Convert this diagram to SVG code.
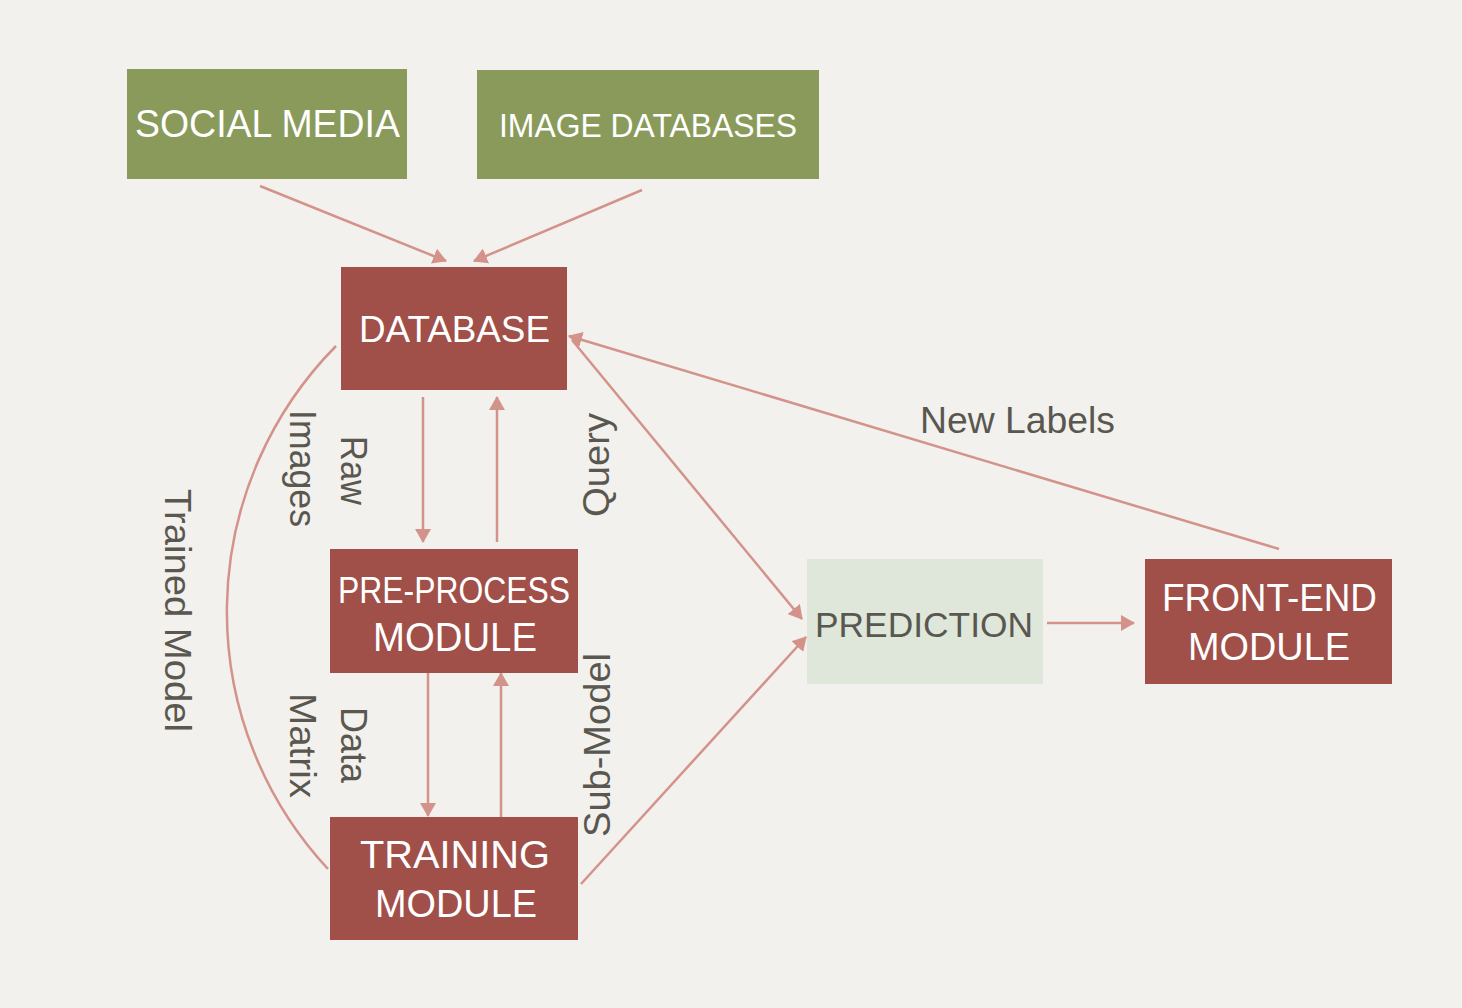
<svg xmlns="http://www.w3.org/2000/svg" width="1462" height="1008" viewBox="0 0 1462 1008">
  <defs>
    <marker id="arrow" markerUnits="userSpaceOnUse" viewBox="0 0 14 16" refX="13" refY="8" markerWidth="14" markerHeight="16" orient="auto">
      <path d="M0,0 L14,8 L0,16 z" fill="#d4938a"/>
    </marker>
  </defs>
  <style>
    .bg { fill: #f2f1ed; }
    .green { fill: #8a9a5b; }
    .red { fill: #a04f49; }
    .pred { fill: #dee7da; }
    .wt { fill: #ffffff; font-family: "Liberation Sans", Arial, sans-serif; }
    .gt { fill: #59574f; font-family: "Liberation Sans", Arial, sans-serif; }
    .lbl { fill: #59574f; font-family: "Liberation Sans", Arial, sans-serif; font-size: 37px; }
    .conn { stroke: #d4938a; stroke-width: 2.5; fill: none; }
    .arr { marker-end: url(#arrow); }
  </style>
  <rect class="bg" x="0" y="0" width="1462" height="1008"/>

  <g id="connectors">
    <line class="conn arr" x1="260" y1="186" x2="446" y2="261"/>
    <line class="conn arr" x1="642" y1="190" x2="474" y2="261"/>
    <line class="conn arr" x1="423" y1="397" x2="423" y2="542"/>
    <line class="conn arr" x1="497" y1="542" x2="497" y2="397"/>
    <line class="conn arr" x1="428" y1="673" x2="428" y2="816"/>
    <line class="conn arr" x1="501" y1="817" x2="501" y2="673"/>
    <line class="conn arr" x1="572" y1="340" x2="802" y2="619"/>
    <line class="conn arr" x1="581" y1="884" x2="806" y2="637"/>
    <line class="conn arr" x1="1279" y1="549" x2="569" y2="336"/>
    <line class="conn arr" x1="1047" y1="623" x2="1134" y2="623"/>
    <path class="conn" d="M336,346 A378,378 0 0 0 328,869"/>
  </g>

  <g id="labels">
    <text class="lbl" x="920" y="433" textLength="195" lengthAdjust="spacingAndGlyphs">New Labels</text>
    <text class="lbl" transform="translate(290,410) rotate(90)" x="0" y="0" textLength="117" lengthAdjust="spacingAndGlyphs">Images</text>
    <text class="lbl" transform="translate(341,436) rotate(90)" x="0" y="0" textLength="69" lengthAdjust="spacingAndGlyphs">Raw</text>
    <text class="lbl" transform="translate(165,489) rotate(90)" x="0" y="0" textLength="243" lengthAdjust="spacingAndGlyphs">Trained Model</text>
    <text class="lbl" transform="translate(290,693) rotate(90)" x="0" y="0" textLength="105" lengthAdjust="spacingAndGlyphs">Matrix</text>
    <text class="lbl" transform="translate(341,707) rotate(90)" x="0" y="0" textLength="76" lengthAdjust="spacingAndGlyphs">Data</text>
    <text class="lbl" transform="translate(609,517) rotate(-90)" x="0" y="0" textLength="104" lengthAdjust="spacingAndGlyphs">Query</text>
    <text class="lbl" transform="translate(610,837) rotate(-90)" x="0" y="0" textLength="184" lengthAdjust="spacingAndGlyphs">Sub-Model</text>
  </g>

  <g id="social-media">
    <rect class="green" x="127" y="69" width="280" height="110"/>
    <text class="wt" x="135" y="137" font-size="39" textLength="265" lengthAdjust="spacingAndGlyphs">SOCIAL MEDIA</text>
  </g>

  <g id="image-databases">
    <rect class="green" x="477" y="70" width="342" height="109"/>
    <text class="wt" x="499" y="137" font-size="33" textLength="298" lengthAdjust="spacingAndGlyphs">IMAGE DATABASES</text>
  </g>

  <g id="database">
    <rect class="red" x="341" y="267" width="226" height="123"/>
    <text class="wt" x="359" y="342" font-size="37" textLength="191" lengthAdjust="spacingAndGlyphs">DATABASE</text>
  </g>

  <g id="pre-process-module">
    <rect class="red" x="330" y="549" width="248" height="124"/>
    <text class="wt" x="338" y="603" font-size="36" textLength="232" lengthAdjust="spacingAndGlyphs">PRE-PROCESS</text>
    <text class="wt" x="373" y="651" font-size="41" textLength="164" lengthAdjust="spacingAndGlyphs">MODULE</text>
  </g>

  <g id="training-module">
    <rect class="red" x="330" y="817" width="248" height="123"/>
    <text class="wt" x="360" y="868" font-size="38" textLength="190" lengthAdjust="spacingAndGlyphs">TRAINING</text>
    <text class="wt" x="375" y="917" font-size="39" textLength="162" lengthAdjust="spacingAndGlyphs">MODULE</text>
  </g>

  <g id="prediction">
    <rect class="pred" x="807" y="559" width="236" height="125"/>
    <text class="gt" x="815" y="637" font-size="35" textLength="218" lengthAdjust="spacingAndGlyphs">PREDICTION</text>
  </g>

  <g id="front-end-module">
    <rect class="red" x="1145" y="559" width="247" height="125"/>
    <text class="wt" x="1162" y="611" font-size="39" textLength="215" lengthAdjust="spacingAndGlyphs">FRONT-END</text>
    <text class="wt" x="1188" y="660" font-size="38" textLength="162" lengthAdjust="spacingAndGlyphs">MODULE</text>
  </g>
</svg>
